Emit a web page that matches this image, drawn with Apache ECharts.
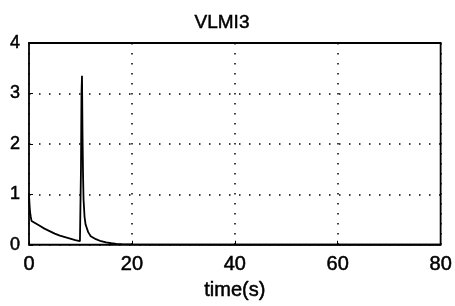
<!DOCTYPE html>
<html><head><meta charset="utf-8">
<script src="https://cdn.jsdelivr.net/npm/echarts@6/dist/echarts.min.js"></script>
<style>html,body{margin:0;padding:0;background:#fff}#c{width:455px;height:306px}</style>
</head><body><div id="c"></div>
<script>
const titleText = 'VLMI3';
const xLabel = 'time(s)';
const xTicks = [0, 20, 40, 60, 80];
const yTicks = [0, 1, 2, 3, 4];
const timeValues = [0, 0.1, 0.2, 0.35, 0.5, 1, 2, 3, 4, 5, 6, 7, 8, 9, 9.9, 10.0, 10.1, 10.2, 10.3, 10.4, 10.5, 10.6, 10.8, 11, 11.5, 12, 13, 14, 15, 16, 17, 18, 20, 25, 30, 40, 50, 60, 70, 80];
const vlmi3Values = [1.0, 0.8, 0.65, 0.55, 0.47, 0.44, 0.38, 0.32, 0.27, 0.22, 0.18, 0.15, 0.12, 0.09, 0.07, 0.08, 1.5, 3.0, 3.35, 2.2, 1.4, 0.9, 0.55, 0.4, 0.25, 0.17, 0.11, 0.07, 0.045, 0.03, 0.018, 0.012, 0.006, 0.002, 0.001, 0, 0, 0, 0, 0];

const chart = echarts.init(document.getElementById('c'), null, {renderer: 'canvas'});
const font = 'Liberation Sans, Arial, sans-serif';
const thick = {textBorderColor: '#000', textBorderWidth: 0.5};
chart.setOption({
  animation: false,
  title: {text: titleText, left: 217, top: 8, textAlign: 'center',
    textStyle: Object.assign({fontFamily: font, fontSize: 19, fontWeight: 'normal', color: '#000'}, thick)},
  grid: {left: 29, right: 13, top: 43, bottom: 59, show: true, borderColor: '#000', borderWidth: 1.8, backgroundColor: 'transparent'},
  xAxis: {type: 'value', min: xTicks[0], max: xTicks[xTicks.length-1], interval: 20,
    name: xLabel, nameLocation: 'middle', nameGap: 36,
    nameTextStyle: Object.assign({fontFamily: font, fontSize: 20, color: '#000'}, thick),
    axisLine: {show: false}, axisTick: {show: true, inside: true, length: 4, lineStyle: {color: '#000'}},
    axisLabel: Object.assign({fontFamily: font, fontSize: 20, color: '#000', margin: 10}, thick),
    splitLine: {show: true, lineStyle: {color: '#000', type: [1.5, 8.5], width: 1.5}}},
  yAxis: {type: 'value', min: yTicks[0], max: yTicks[yTicks.length-1], interval: 1,
    axisLine: {show: false}, axisTick: {show: true, inside: true, length: 4, lineStyle: {color: '#000'}},
    axisLabel: Object.assign({fontFamily: font, fontSize: 18, color: '#000', margin: 9}, thick),
    splitLine: {show: true, lineStyle: {color: '#000', type: [1.5, 8.5], width: 1.5}}},
  series: [{type: 'line', data: timeValues.map((t, i) => [t, vlmi3Values[i]]),
    showSymbol: false, lineStyle: {color: '#000', width: 1.8}, smooth: false}]
});
</script></body></html>
